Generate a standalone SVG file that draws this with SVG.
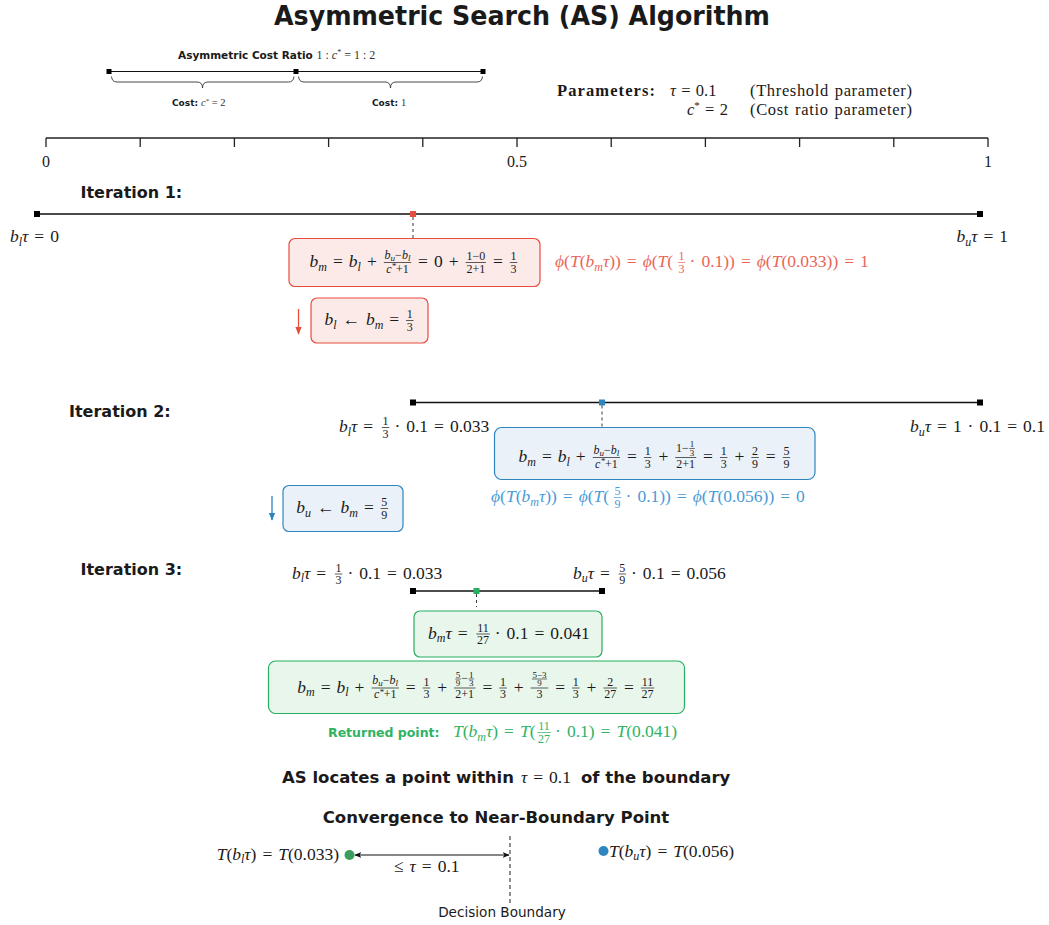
<svg xmlns="http://www.w3.org/2000/svg" width="1049" height="925" viewBox="0 0 1049 925">
  <defs>
    <style>
      .sb{font-family:"DejaVu Sans",sans-serif;font-weight:bold}
      .sn{font-family:"DejaVu Sans",sans-serif}
      .m{font-family:"Liberation Serif",serif;font-size:17.5px;word-spacing:1.6px}
      .p{font-family:"Liberation Serif",serif;font-size:16.5px;word-spacing:1.2px}
      .i{font-style:italic}
      .s{font-size:12px;font-style:italic}
      .f{font-family:"Liberation Serif",serif;font-size:12px;text-anchor:middle}
      .fl{font-family:"Liberation Serif",serif;font-size:12px}
      .fs{font-size:9px;font-style:italic}
      .n{font-family:"Liberation Serif",serif;font-size:9px;text-anchor:middle}
      .box-r{fill:#fbeae8;stroke:#e74c3c;stroke-width:1.2}
      .box-b{fill:#eaf1f8;stroke:#2e86c1;stroke-width:1.2}
      .box-g{fill:#e9f6ec;stroke:#27ae60;stroke-width:1.2}
      .track{stroke:#111;stroke-width:1.3}
      .dash{stroke:#222;stroke-width:0.9;stroke-dasharray:3 3;fill:none}
    </style>
    <marker id="ah-red" viewBox="0 0 10 10" refX="9" refY="5" markerWidth="8" markerHeight="8" markerUnits="userSpaceOnUse" orient="auto">
      <path d="M0,1 L10,5 L0,9 z" fill="#e74c3c"/>
    </marker>
    <marker id="ah-blue" viewBox="0 0 10 10" refX="9" refY="5" markerWidth="8" markerHeight="8" markerUnits="userSpaceOnUse" orient="auto">
      <path d="M0,1 L10,5 L0,9 z" fill="#2e86c1"/>
    </marker>
    <marker id="ah-black" viewBox="0 0 10 10" refX="9" refY="5" markerWidth="7" markerHeight="7" markerUnits="userSpaceOnUse" orient="auto-start-reverse">
      <path d="M0,1 L10,5 L0,9 L2.5,5 z" fill="#111"/>
    </marker>
  </defs>

  <rect width="1049" height="925" fill="#ffffff"/>

  <g fill="#1a1a1a">
    <!-- heading -->
    <g id="title">
      <text class="sb" x="522" y="24.5" style="font-size:26px" text-anchor="middle" textLength="496" lengthAdjust="spacingAndGlyphs">Asymmetric Search (AS) Algorithm</text>
    </g>

    <!-- cost ratio bar with braces -->
    <g id="cost-ratio">
      <text class="sb" x="178" y="59" style="font-size:10.5px">Asymmetric Cost Ratio</text>
      <text class="m" x="316.5" y="59" style="font-size:12px;word-spacing:0" fill="#333">1 : <tspan class="i">c</tspan><tspan style="font-size:8px" dy="-4">*</tspan><tspan dy="4"> = 1 : 2</tspan></text>
      <line x1="109" y1="71.5" x2="483" y2="71.5" stroke="#111" stroke-width="1.2"/>
      <rect x="106.5" y="69" width="5" height="5" fill="#000"/>
      <rect x="293.5" y="69" width="5" height="5" fill="#000"/>
      <rect x="480.5" y="69" width="5" height="5" fill="#000"/>
      <path d="M111.5,76.5 Q112,82 117,82 L197,82 Q202.5,82 202.5,88 Q202.5,82 208,82 L288.5,82 Q293.5,82 294,76.5" fill="none" stroke="#333" stroke-width="0.9"/>
      <path d="M298.5,76.5 Q299,82 304,82 L385,82 Q390.5,82 390.5,88 Q390.5,82 396,82 L477,82 Q482,82 482.5,76.5" fill="none" stroke="#333" stroke-width="0.9"/>
      <text class="sb" x="172" y="106" style="font-size:9px">Cost:</text>
      <text class="m" x="201" y="106" style="font-size:10.5px;word-spacing:0" fill="#333"><tspan class="i">c</tspan><tspan style="font-size:7px" dy="-3.5">*</tspan><tspan dy="3.5"> = 2</tspan></text>
      <text class="sb" x="372" y="106" style="font-size:9px">Cost:</text>
      <text class="m" x="401" y="106" style="font-size:10.5px" fill="#333">1</text>
    </g>

    <!-- parameter legend -->
    <g id="parameters">
      <text x="557" y="95.5" style="font-family:'Liberation Serif',serif;font-weight:bold;font-size:16.5px" textLength="98">Parameters:</text>
      <text class="p" x="670" y="95.5"><tspan class="i">τ</tspan> = 0.1</text>
      <text class="p" x="750" y="95.5" textLength="162">(Threshold parameter)</text>
      <text class="p" x="728" y="114.5" text-anchor="end"><tspan class="i">c</tspan><tspan style="font-size:11px" dy="-6">*</tspan><tspan dy="6"> = 2</tspan></text>
      <text class="p" x="750" y="114.5" textLength="162">(Cost ratio parameter)</text>
    </g>

    <!-- unit axis -->
    <g id="axis">
      <line x1="46" y1="138" x2="988" y2="138" stroke="#222" stroke-width="1.3"/>
      <path d="M46,138V147 M140.2,138V147 M234.4,138V147 M328.6,138V147 M422.8,138V147 M517,138V147 M611.2,138V147 M705.4,138V147 M799.6,138V147 M893.8,138V147 M988,138V147" stroke="#222" stroke-width="1.3"/>
      <text class="m" x="46" y="167" style="font-size:16px" text-anchor="middle">0</text>
      <text class="m" x="517" y="167" style="font-size:16px" text-anchor="middle">0.5</text>
      <text class="m" x="988" y="167" style="font-size:16px" text-anchor="middle">1</text>
    </g>

    <!-- ================= iteration 1 ================= -->
    <g id="iter1-label">
      <text class="sb" x="80.5" y="197.5" style="font-size:16px">Iteration 1:</text>
    </g>
    <g id="iter1-interval">
      <line class="track" x1="37" y1="214" x2="980" y2="214"/>
      <rect x="34" y="211" width="6" height="6" fill="#000"/>
      <rect x="977" y="211" width="6" height="6" fill="#000"/>
      <rect x="410" y="211" width="6" height="6" fill="#e74c3c"/>
      <text class="m" x="10" y="242"><tspan class="i">b</tspan><tspan class="s" dy="3.5">l</tspan><tspan class="i" dy="-3.5">τ</tspan> = 0</text>
      <text class="m" x="1008" y="242" text-anchor="end"><tspan class="i">b</tspan><tspan class="s" dy="3.5">u</tspan><tspan class="i" dy="-3.5">τ</tspan> = 1</text>
    </g>
    <g id="iter1-midpoint">
      <rect class="box-r" x="289" y="238.5" width="251" height="48" rx="6"/>
      <text class="m" x="309.6" y="267"><tspan class="i">b</tspan><tspan class="s" dy="3.5">m</tspan><tspan dy="-3.5"> = </tspan><tspan class="i">b</tspan><tspan class="s" dy="3.5">l</tspan><tspan dy="-3.5"> +</tspan></text>
      <rect x="383.85" y="262.15" width="27.3" height="0.7"/>
      <text class="f" x="397.5" y="258.5"><tspan class="i">b</tspan><tspan class="fs" dy="2">u</tspan><tspan dy="-2">−</tspan><tspan class="i">b</tspan><tspan class="fs" dy="2">l</tspan></text>
      <text class="f" x="397.5" y="272.5"><tspan class="i">c</tspan><tspan class="fs" dy="-3.5">*</tspan><tspan dy="3.5">+1</tspan></text>
      <text class="m" x="418.1" y="267">= 0 +</text>
      <rect x="465.65" y="262.15" width="20.3" height="0.7"/>
      <text class="f" x="475.8" y="260">1−0</text>
      <text class="f" x="475.8" y="272.5">2+1</text>
      <text class="m" x="492.9" y="267">=</text>
      <rect x="509.85" y="262.15" width="7.5" height="0.7"/>
      <text class="f" x="513.6" y="260">1</text>
      <text class="f" x="513.6" y="272.5">3</text>
    </g>
    <g id="iter1-oracle" fill="#eb6556">
      <text class="m" x="555" y="267"><tspan class="i">ϕ</tspan>(<tspan class="i">T</tspan>(<tspan class="i">b</tspan><tspan class="s" dy="3.5">m</tspan><tspan class="i" dy="-3.5">τ</tspan>)) = <tspan class="i">ϕ</tspan>(<tspan class="i">T</tspan>(</text>
      <rect x="677.85" y="262.15" width="7.5" height="0.7"/>
      <text class="f" x="681.6" y="260">1</text>
      <text class="f" x="681.6" y="272.5">3</text>
      <text class="m" x="689.6" y="267">· 0.1)) = <tspan class="i">ϕ</tspan>(<tspan class="i">T</tspan>(0.033)) = 1</text>
    </g>
    <g id="iter1-update">
      <rect class="box-r" x="311" y="298" width="117" height="45" rx="6"/>
      <text class="m" x="324.4" y="325"><tspan class="i">b</tspan><tspan class="s" dy="3.5">l</tspan><tspan dy="-3.5"> ← </tspan><tspan class="i">b</tspan><tspan class="s" dy="3.5">m</tspan><tspan dy="-3.5"> =</tspan></text>
      <rect x="406.05" y="320.15" width="7.5" height="0.7"/>
      <text class="f" x="409.8" y="318">1</text>
      <text class="f" x="409.8" y="330.5">3</text>
    </g>

    <!-- ================= iteration 2 ================= -->
    <g id="iter2-label">
      <text class="sb" x="69" y="417" style="font-size:16px">Iteration 2:</text>
    </g>
    <g id="iter2-interval">
      <line class="track" x1="413" y1="402.5" x2="980" y2="402.5"/>
      <rect x="410" y="399.5" width="6" height="6" fill="#000"/>
      <rect x="977" y="399.5" width="6" height="6" fill="#000"/>
      <rect x="599" y="399.5" width="6" height="6" fill="#2e86c1"/>
      <text class="m" x="339" y="432"><tspan class="i">b</tspan><tspan class="s" dy="3.5">l</tspan><tspan class="i" dy="-3.5">τ</tspan> =</text>
      <rect x="381.85" y="427.15" width="7.5" height="0.7"/>
      <text class="f" x="385.6" y="425">1</text>
      <text class="f" x="385.6" y="437.5">3</text>
      <text class="m" x="394.4" y="432">· 0.1 = 0.033</text>
      <text class="m" x="1045" y="432" text-anchor="end"><tspan class="i">b</tspan><tspan class="s" dy="3.5">u</tspan><tspan class="i" dy="-3.5">τ</tspan> = 1 · 0.1 = 0.1</text>
    </g>
    <g id="iter2-midpoint">
      <rect class="box-b" x="494.5" y="427.5" width="320.5" height="52" rx="7"/>
      <text class="m" x="518.5" y="462"><tspan class="i">b</tspan><tspan class="s" dy="3.5">m</tspan><tspan dy="-3.5"> = </tspan><tspan class="i">b</tspan><tspan class="s" dy="3.5">l</tspan><tspan dy="-3.5"> +</tspan></text>
      <rect x="592.74" y="457.15" width="27.3" height="0.7"/>
      <text class="f" x="606.39" y="453.5"><tspan class="i">b</tspan><tspan class="fs" dy="2">u</tspan><tspan dy="-2">−</tspan><tspan class="i">b</tspan><tspan class="fs" dy="2">l</tspan></text>
      <text class="f" x="606.39" y="467.5"><tspan class="i">c</tspan><tspan class="fs" dy="-3.5">*</tspan><tspan dy="3.5">+1</tspan></text>
      <text class="m" x="627.04" y="462">=</text>
      <rect x="643.91" y="457.15" width="7.5" height="0.7"/>
      <text class="f" x="647.66" y="455">1</text>
      <text class="f" x="647.66" y="467.5">3</text>
      <text class="m" x="658.41" y="462">+</text>
      <rect x="675.2" y="457.15" width="21" height="0.7"/>
      <text class="fl" x="676.03" y="451.7">1−</text>
      <rect x="689.3" y="448.15" width="5.5" height="0.6"/>
      <text class="n" x="692.05" y="447">1</text>
      <text class="n" x="692.05" y="455.5">3</text>
      <text class="f" x="685.68" y="467.5">2+1</text>
      <text class="m" x="703.08" y="462">=</text>
      <rect x="719.95" y="457.15" width="7.5" height="0.7"/>
      <text class="f" x="723.7" y="455">1</text>
      <text class="f" x="723.7" y="467.5">3</text>
      <text class="m" x="734.45" y="462">+</text>
      <rect x="751.32" y="457.15" width="7.5" height="0.7"/>
      <text class="f" x="755.07" y="455">2</text>
      <text class="f" x="755.07" y="467.5">9</text>
      <text class="m" x="765.82" y="462">=</text>
      <rect x="782.69" y="457.15" width="7.5" height="0.7"/>
      <text class="f" x="786.44" y="455">5</text>
      <text class="f" x="786.44" y="467.5">9</text>
    </g>
    <g id="iter2-oracle" fill="#4a9bd6">
      <text class="m" x="491" y="502"><tspan class="i">ϕ</tspan>(<tspan class="i">T</tspan>(<tspan class="i">b</tspan><tspan class="s" dy="3.5">m</tspan><tspan class="i" dy="-3.5">τ</tspan>)) = <tspan class="i">ϕ</tspan>(<tspan class="i">T</tspan>(</text>
      <rect x="613.85" y="497.15" width="7.5" height="0.7"/>
      <text class="f" x="617.6" y="495">5</text>
      <text class="f" x="617.6" y="507.5">9</text>
      <text class="m" x="625.6" y="502">· 0.1)) = <tspan class="i">ϕ</tspan>(<tspan class="i">T</tspan>(0.056)) = 0</text>
    </g>
    <g id="iter2-update">
      <rect class="box-b" x="283" y="485.5" width="120" height="46" rx="6"/>
      <text class="m" x="296.3" y="513"><tspan class="i">b</tspan><tspan class="s" dy="3.5">u</tspan><tspan dy="-3.5"> ← </tspan><tspan class="i">b</tspan><tspan class="s" dy="3.5">m</tspan><tspan dy="-3.5"> =</tspan></text>
      <rect x="380.6" y="508.15" width="7.5" height="0.7"/>
      <text class="f" x="384.35" y="506">5</text>
      <text class="f" x="384.35" y="518.5">9</text>
    </g>

    <!-- ================= iteration 3 ================= -->
    <g id="iter3-label">
      <text class="sb" x="80.5" y="575" style="font-size:16px">Iteration 3:</text>
    </g>
    <g id="iter3-interval">
      <text class="m" x="292" y="578.5"><tspan class="i">b</tspan><tspan class="s" dy="3.5">l</tspan><tspan class="i" dy="-3.5">τ</tspan> =</text>
      <rect x="334.85" y="573.65" width="7.5" height="0.7"/>
      <text class="f" x="338.6" y="571.5">1</text>
      <text class="f" x="338.6" y="584">3</text>
      <text class="m" x="347.4" y="578.5">· 0.1 = 0.033</text>
      <text class="m" x="573" y="578.5"><tspan class="i">b</tspan><tspan class="s" dy="3.5">u</tspan><tspan class="i" dy="-3.5">τ</tspan> =</text>
      <rect x="618.55" y="573.65" width="7.5" height="0.7"/>
      <text class="f" x="622.3" y="571.5">5</text>
      <text class="f" x="622.3" y="584">9</text>
      <text class="m" x="631" y="578.5">· 0.1 = 0.056</text>
      <line class="track" x1="413" y1="591" x2="602" y2="591"/>
      <rect x="410" y="588" width="6" height="6" fill="#000"/>
      <rect x="599" y="588" width="6" height="6" fill="#000"/>
      <rect x="473.5" y="588" width="6" height="6" fill="#27ae60"/>
    </g>
    <g id="iter3-point">
      <rect class="box-g" x="414" y="611" width="188" height="46" rx="6"/>
      <text class="m" x="428.1" y="638.5"><tspan class="i">b</tspan><tspan class="s" dy="3.5">m</tspan><tspan class="i" dy="-3.5">τ</tspan> =</text>
      <rect x="476.3" y="633.65" width="13.5" height="0.7"/>
      <text class="f" x="483.05" y="631.5">11</text>
      <text class="f" x="483.05" y="644">27</text>
      <text class="m" x="494.8" y="638.5">· 0.1 = 0.041</text>
    </g>
    <g id="iter3-midpoint">
      <rect class="box-g" x="268.5" y="661" width="416" height="52.5" rx="7"/>
      <text class="m" x="297.3" y="692.5"><tspan class="i">b</tspan><tspan class="s" dy="3.5">m</tspan><tspan dy="-3.5"> = </tspan><tspan class="i">b</tspan><tspan class="s" dy="3.5">l</tspan><tspan dy="-3.5"> +</tspan></text>
      <rect x="371.54" y="687.65" width="27.3" height="0.7"/>
      <text class="f" x="385.19" y="684"><tspan class="i">b</tspan><tspan class="fs" dy="2">u</tspan><tspan dy="-2">−</tspan><tspan class="i">b</tspan><tspan class="fs" dy="2">l</tspan></text>
      <text class="f" x="385.19" y="698"><tspan class="i">c</tspan><tspan class="fs" dy="-3.5">*</tspan><tspan dy="3.5">+1</tspan></text>
      <text class="m" x="405.84" y="692.5">=</text>
      <rect x="422.71" y="687.65" width="7.5" height="0.7"/>
      <text class="f" x="426.46" y="685.5">1</text>
      <text class="f" x="426.46" y="698">3</text>
      <text class="m" x="437.21" y="692.5">+</text>
      <rect x="453.98" y="687.65" width="21.5" height="0.7"/>
      <rect x="455.33" y="678.7" width="5.5" height="0.6"/>
      <text class="n" x="458.08" y="677.5">5</text>
      <text class="n" x="458.08" y="686">9</text>
      <text class="fl" x="461.33" y="682.2">−</text>
      <rect x="468.6" y="678.7" width="5.5" height="0.6"/>
      <text class="n" x="471.35" y="677.5">1</text>
      <text class="n" x="471.35" y="686">3</text>
      <text class="f" x="464.73" y="698">2+1</text>
      <text class="m" x="482.38" y="692.5">=</text>
      <rect x="499.25" y="687.65" width="7.5" height="0.7"/>
      <text class="f" x="503" y="685.5">1</text>
      <text class="f" x="503" y="698">3</text>
      <text class="m" x="513.75" y="692.5">+</text>
      <rect x="530.6" y="687.65" width="17.6" height="0.7"/>
      <rect x="531.9" y="678.7" width="15" height="0.6"/>
      <text class="n" x="539.42" y="677.5">5−3</text>
      <text class="n" x="539.42" y="686">9</text>
      <text class="f" x="539.42" y="698">3</text>
      <text class="m" x="555.22" y="692.5">=</text>
      <rect x="572.09" y="687.65" width="7.5" height="0.7"/>
      <text class="f" x="575.84" y="685.5">1</text>
      <text class="f" x="575.84" y="698">3</text>
      <text class="m" x="586.59" y="692.5">+</text>
      <rect x="603.46" y="687.65" width="13.5" height="0.7"/>
      <text class="f" x="610.21" y="685.5">2</text>
      <text class="f" x="610.21" y="698">27</text>
      <text class="m" x="623.96" y="692.5">=</text>
      <rect x="640.83" y="687.65" width="13.5" height="0.7"/>
      <text class="f" x="647.58" y="685.5">11</text>
      <text class="f" x="647.58" y="698">27</text>
    </g>
    <g id="iter3-result" fill="#2eb364">
      <text class="sb" x="328" y="737" style="font-size:12.5px">Returned point:</text>
      <text class="m" x="453" y="737"><tspan class="i">T</tspan>(<tspan class="i">b</tspan><tspan class="s" dy="3.5">m</tspan><tspan class="i" dy="-3.5">τ</tspan>) = <tspan class="i">T</tspan>(</text>
      <rect x="537.35" y="732.15" width="13.5" height="0.7"/>
      <text class="f" x="544.1" y="730">11</text>
      <text class="f" x="544.1" y="742.5">27</text>
      <text class="m" x="555.1" y="737">· 0.1) = <tspan class="i">T</tspan>(0.041)</text>
    </g>

    <!-- summary -->
    <g id="summary">
      <text class="sb" x="282" y="783" style="font-size:16.5px">AS locates a point within</text>
      <text class="m" x="521" y="783"><tspan class="i">τ</tspan> = 0.1</text>
      <text class="sb" x="581" y="783" style="font-size:16.5px">of the boundary</text>
      <text class="sb" x="496" y="823" style="font-size:16.5px" text-anchor="middle">Convergence to Near-Boundary Point</text>
    </g>

    <!-- boundary sketch -->
    <g id="lower-point">
      <circle cx="349.5" cy="855" r="5" fill="#3a9d5d"/>
      <text class="m" x="339" y="859.5" text-anchor="end"><tspan class="i">T</tspan>(<tspan class="i">b</tspan><tspan class="s" dy="3.5">l</tspan><tspan class="i" dy="-3.5">τ</tspan>) = <tspan class="i">T</tspan>(0.033)</text>
    </g>
    <g id="upper-point">
      <circle cx="603.5" cy="851" r="5" fill="#2e86c1"/>
      <text class="m" x="609" y="856.5"><tspan class="i">T</tspan>(<tspan class="i">b</tspan><tspan class="s" dy="3.5">u</tspan><tspan class="i" dy="-3.5">τ</tspan>) = <tspan class="i">T</tspan>(0.056)</text>
    </g>
    <g id="decision-boundary">
      <line x1="510" y1="836" x2="510" y2="904" stroke="#333" stroke-width="1.1" stroke-dasharray="4 3"/>
      <text class="sn" x="502" y="917" style="font-size:13.6px" text-anchor="middle">Decision Boundary</text>
    </g>
    <g id="gap-label">
      <text class="m" x="394" y="872">≤ <tspan class="i">τ</tspan> = 0.1</text>
    </g>
  </g>

  <!-- connectors -->
  <g id="connectors" fill="none">
    <line class="dash" x1="413" y1="217" x2="413" y2="238"/>
    <line class="dash" x1="602" y1="405.5" x2="602" y2="427"/>
    <line class="dash" x1="476.5" y1="594" x2="476.5" y2="607"/>
    <line x1="298.5" y1="309" x2="298.5" y2="334" stroke="#e74c3c" stroke-width="1.3" marker-end="url(#ah-red)"/>
    <line x1="272" y1="496" x2="272" y2="520" stroke="#2e86c1" stroke-width="1.3" marker-end="url(#ah-blue)"/>
    <line x1="355" y1="855" x2="509" y2="855" stroke="#111" stroke-width="1.2" marker-start="url(#ah-black)" marker-end="url(#ah-black)"/>
  </g>
</svg>
